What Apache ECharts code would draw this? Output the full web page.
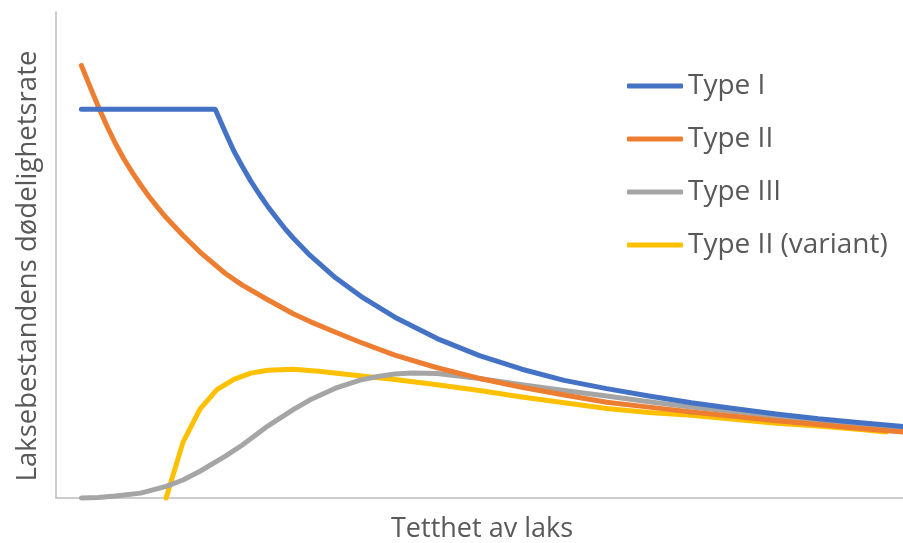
<!DOCTYPE html>
<html>
<head>
<meta charset="utf-8">
<script src="https://cdn.jsdelivr.net/npm/echarts@6/dist/echarts.min.js"></script>
<style>
  html, body { margin: 0; padding: 0; background: #ffffff; }
  #chart { width: 903px; height: 543px; }
</style>
</head>
<body>
<div id="chart"></div>
<script>
// Mortality rate of the salmon stock against salmon density (arbitrary units)
const typeIX = [3, 10, 18.8, 19.5, 20, 21, 22, 23, 24, 25, 26, 27, 28, 30, 33, 36, 40, 45, 50, 55, 60, 65, 70, 75, 80, 85, 90, 95, 100];
const typeIY = [80, 80, 80, 77.2, 75.2, 71.4, 68.2, 65.2, 62.5, 60.0, 57.7, 55.5, 53.5, 49.9, 45.3, 41.5, 37.2, 32.8, 29.3, 26.5, 24.2, 22.5, 21.0, 19.6, 18.4, 17.3, 16.3, 15.5, 14.7];

const typeIIX = [3, 4, 5, 6, 7, 8, 9, 10, 11, 12, 13, 15, 17, 20, 22, 25, 28, 30, 33, 36, 40, 45, 50, 55, 60, 65, 70, 75, 80, 85, 90, 95, 100];
const typeIIY = [89, 84.7, 80.5, 76.6, 73.0, 69.8, 67.0, 64.4, 62.0, 59.8, 57.7, 54.0, 50.6, 46.2, 43.8, 40.8, 37.9, 36.3, 34.1, 32.0, 29.4, 26.8, 24.6, 22.8, 21.2, 19.7, 18.7, 17.7, 16.8, 15.9, 15.1, 14.3, 13.6];

const typeIIIX = [3, 5, 7, 10, 13, 15, 17, 20, 22, 25, 28, 30, 33, 36, 38, 40, 42, 45, 50, 55, 60, 65, 70, 75, 80, 85, 90, 95, 100];
const typeIIIY = [0, 0.1, 0.4, 1.0, 2.4, 3.7, 5.5, 8.6, 10.9, 14.8, 18.2, 20.2, 22.6, 24.3, 25.0, 25.5, 25.7, 25.6, 24.6, 23.3, 22.1, 21.0, 19.8, 18.7, 17.8, 16.8, 15.9, 15.0, 14.2];

const variantX = [13, 15, 17, 19, 21, 23, 25, 28, 31, 35, 40, 45, 50, 55, 60, 65, 70, 75, 80, 85, 90, 95, 98];
const variantY = [0, 11.5, 18.3, 22.3, 24.4, 25.7, 26.3, 26.5, 26.1, 25.3, 24.4, 23.3, 22.1, 20.8, 19.6, 18.4, 17.6, 17.0, 16.2, 15.4, 14.8, 14.1, 13.6];

const seriesNames = ['Type I', 'Type II', 'Type III', 'Type II (variant)'];
const seriesColors = ['#4472C4', '#ED7D31', '#A5A5A5', '#FFC000'];

const xTitle = 'Tetthet av laks';
const yTitle = 'Laksebestandens dødelighetsrate';

function pairs(xs, ys) {
  return xs.map((x, i) => [x, ys[i]]);
}

const curves = [
  pairs(typeIX, typeIY),
  pairs(typeIIX, typeIIY),
  pairs(typeIIIX, typeIIIY),
  pairs(variantX, variantY)
];

const textColor = '#595959';
const fontFamily = '"Open Sans", "Liberation Sans", sans-serif';

const chart = echarts.init(document.getElementById('chart'), null, { renderer: 'canvas' });

chart.setOption({
  backgroundColor: '#ffffff',
  animation: false,
  grid: { left: 56, right: 0, top: 12, bottom: 45, containLabel: false },
  legend: {
    orient: 'vertical',
    left: 627,
    top: 71,
    padding: 0,
    icon: 'roundRect',
    itemWidth: 56,
    itemHeight: 5,
    itemGap: 23,
    data: seriesNames,
    textStyle: {
      color: textColor,
      fontFamily: fontFamily,
      fontSize: 28,
      lineHeight: 30
    }
  },
  // axis titles
  graphic: [
    {
      type: 'text',
      x: 482,
      y: 529,
      style: {
        text: xTitle,
        fill: textColor,
        font: '27px ' + fontFamily,
        align: 'center',
        verticalAlign: 'middle'
      }
    },
    {
      type: 'text',
      x: 28,
      y: 266,
      rotation: Math.PI / 2,
      style: {
        text: yTitle,
        fill: textColor,
        font: '27.5px ' + fontFamily,
        align: 'center',
        verticalAlign: 'middle'
      }
    }
  ],
  xAxis: {
    type: 'value',
    min: 0,
    max: 100,
    axisLine: { show: true, lineStyle: { color: '#bdbdbd', width: 1.5 } },
    axisTick: { show: false },
    axisLabel: { show: false },
    splitLine: { show: false }
  },
  yAxis: {
    type: 'value',
    min: 0,
    max: 100,
    axisLine: { show: true, lineStyle: { color: '#bdbdbd', width: 1.5 } },
    axisTick: { show: false },
    axisLabel: { show: false },
    splitLine: { show: false }
  },
  series: seriesNames.map((name, i) => ({
    name: name,
    type: 'line',
    data: curves[i],
    showSymbol: false,
    symbol: 'none',
    smooth: false,
    clip: false,
    itemStyle: { color: seriesColors[i] },
    lineStyle: { color: seriesColors[i], width: 5, cap: 'round', join: 'round' },
    z: 10 - i
  }))
});
</script>
</body>
</html>
